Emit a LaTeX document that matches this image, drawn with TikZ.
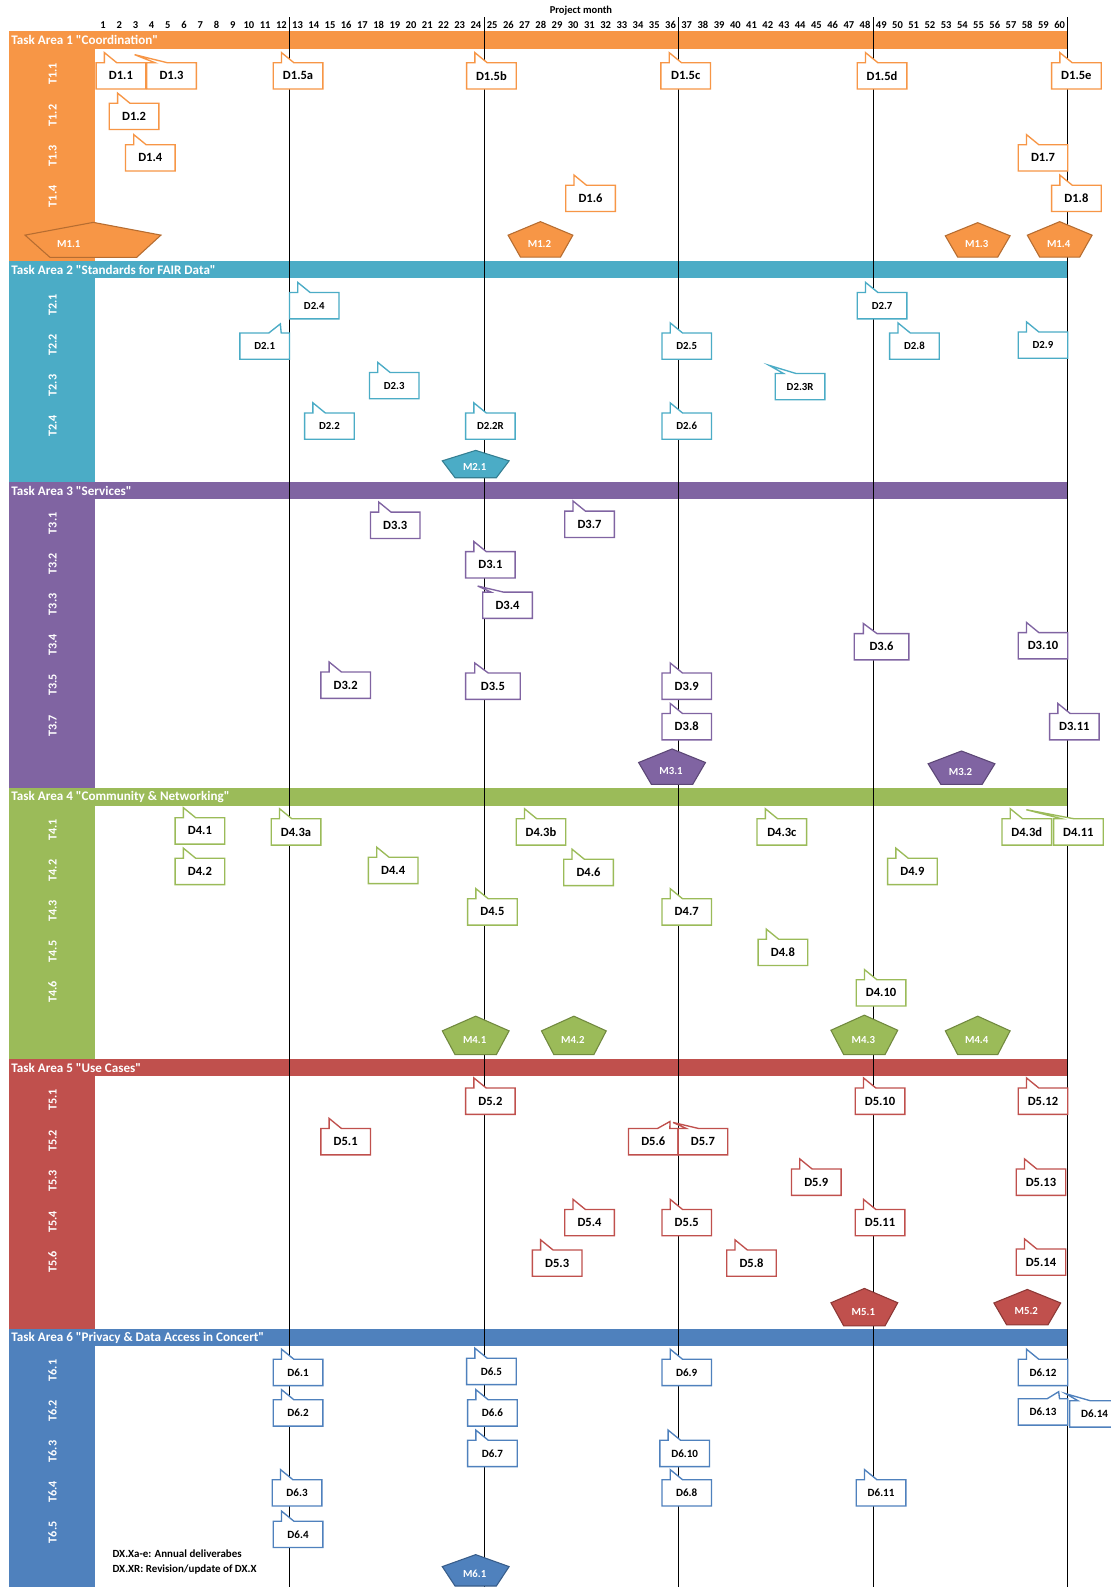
\documentclass[tikz,border=0pt]{standalone}
\usepackage{fontspec}
\setmainfont{Carlito}
\newfontfamily\carlplain{Carlito}
\definecolor{ta1}{HTML}{F79646}\definecolor{ta1d}{HTML}{B66D31}
\definecolor{ta2}{HTML}{4BACC6}\definecolor{ta2d}{HTML}{357F92}
\definecolor{ta3}{HTML}{8064A2}\definecolor{ta3d}{HTML}{5C4776}
\definecolor{ta4}{HTML}{9BBB59}\definecolor{ta4d}{HTML}{71893F}
\definecolor{ta5}{HTML}{C0504D}\definecolor{ta5d}{HTML}{8C3836}
\definecolor{ta6}{HTML}{4F81BD}\definecolor{ta6d}{HTML}{385D8A}
\colorlet{cc}{ta1}\colorlet{ccd}{ta1d}
\def\csz{9.3}
\tikzset{
 callout/.style={draw=cc, fill=white, line width=1pt, line join=miter},
 clabel/.style={font=\bfseries\fontsize{\csz}{\csz}\selectfont, inner sep=0pt, text=black},
 mile/.style={fill=cc, draw=ccd, line width=0.8pt},
 mlabel/.style={font=\bfseries\fontsize{8}{8}\selectfont, text=white, inner sep=0pt},
 tlabel/.style={font=\bfseries\fontsize{9}{9}\selectfont, text=white, rotate=90, inner sep=0pt},
 hlabel/.style={font=\carlplain\bfseries\fontsize{9.7}{9.7}\selectfont, text=white, anchor=west, inner sep=0pt},
 mnum/.style={font=\bfseries\fontsize{7.8}{8}\selectfont, inner sep=0pt},
 legend/.style={font=\bfseries\fontsize{8.1}{8.1}\selectfont, anchor=west, inner sep=0pt},
 vline/.style={black, line width=0.7pt},
}
% callout, wedge base at 2/12..5/12
\newcommand{\dct}[6][49]{%
  \draw[callout] (#3,#4-13) -- (#3+#1/6,#4-13) -- (#6) -- (#3+#1*5/12,#4-13) -- (#3+#1,#4-13) -- (#3+#1,#4+13) -- (#3,#4+13) -- cycle;
  \node[clabel] (#2) at (#3+#1/2,#4) {#5};}
\newcommand{\dc}[5][49]{\dct[#1]{#2}{#3}{#4}{#5}{#3+#1/6,#4-23}}
% callout, wedge base at 7/12..10/12
\newcommand{\dcr}[6][49]{%
  \draw[callout] (#3,#4-13) -- (#3+#1*7/12,#4-13) -- (#6) -- (#3+#1*10/12,#4-13) -- (#3+#1,#4-13) -- (#3+#1,#4+13) -- (#3,#4+13) -- cycle;
  \node[clabel] (#2) at (#3+#1/2,#4) {#5};}
% milestone pentagon: name, cx, y0, w, h, label
\newcommand{\mpent}[6]{%
  \draw[mile] (#2,#3) -- (#2+#4/2,#3+0.382*#5) -- (#2+0.309*#4,#3+#5) -- (#2-0.309*#4,#3+#5) -- (#2-#4/2,#3+0.382*#5) -- cycle;
  \node[mlabel] (#1) at (#2-1,#3+0.62*#5) {#6};}
% task area: color, top, next top, header text, name
\newcommand{\tasec}[5]{%
  \fill[#1] (9,#2) rectangle (1055,#2+17);
  \fill[#1] (9,#2) rectangle (94,#3);
  \node[hlabel] (#5) at (11,#2+8.8) {#4};}
\begin{document}
\begin{tikzpicture}[x=0.75pt,y=-0.75pt]
\useasboundingbox (0,0) rectangle (1097,1568);
\fill[white] (0,0) rectangle (1097,1568);

\tasec{ta1}{31}{258}{Task Area 1 "Coordination"}{h1}
\tasec{ta2}{258}{476}{Task Area 2 "Standards for FAIR Data"}{h2}
\tasec{ta3}{476}{779}{Task Area 3 "Services"}{h3}
\tasec{ta4}{779}{1046}{Task Area 4 "Community \& Networking"}{h4}
\tasec{ta5}{1046}{1313}{Task Area 5 "Use Cases"}{h5}
\tasec{ta6}{1313}{1568}{Task Area 6 "Privacy \& Data Access in Concert"}{h6}

% vertical year lines
\foreach \k/\xx in {1/286,2/478.2,3/670.5,4/862.7,5/1055}{
  \coordinate (v\k t) at (\xx,17);
  \coordinate (v\k b) at (\xx,1568);
  \draw[vline] (v\k t) -- (v\k b);
}

% month numbers
\node[mnum] (pm) at (574,11) {Project month};
\foreach \m in {1,...,60}{
  \node[mnum] (mn\m) at ({286+(\m-12.5)*16.02},25) {\m};
}

% task labels
\foreach \n/\yy in {T1.1/73,T1.2/114,T1.3/154,T1.4/194,
  T2.1/301,T2.2/341,T2.3/381,T2.4/421,
  T3.1/517,T3.2/557,T3.3/597,T3.4/637,T3.5/677,T3.7/717,
  T4.1/820,T4.2/860,T4.3/900,T4.5/940,T4.6/980,
  T5.1/1087,T5.2/1127,T5.3/1167,T5.4/1207,T5.6/1247,
  T6.1/1354,T6.2/1394,T6.3/1434,T6.4/1474,T6.5/1514}{
  \node[tlabel] (lab\n) at (52,\yy) {\n};
}

% ---------- TA1
\colorlet{cc}{ta1}\colorlet{ccd}{ta1d}\def\csz{9.3}
\dc{d11}{95}{75}{D1.1}
\dct{d13}{145}{75}{D1.3}{133,54}
\dc{d15a}{270}{75}{D1.5a}
\dc{d15b}{461}{75}{D1.5b}
\dc{d15c}{653}{75}{D1.5c}
\dc{d15d}{847}{75}{D1.5d}
\dc{d15e}{1039}{75}{D1.5e}
\dc{d12}{108}{115}{D1.2}
\dc{d14}{124}{156}{D1.4}
\dc{d17}{1006}{156}{D1.7}
\dc{d16}{559}{196}{D1.6}
\dc{d18}{1039}{196}{D1.8}
\draw[mile] (24.7,232.3) -- (92.2,219.7) -- (159,232.3) -- (135,254.3) -- (49.4,254.3) -- cycle;
\node[mlabel] (m11) at (68,241) {M1.1};
\mpent{m12}{534}{219}{64}{35}{M1.2}
\mpent{m13}{966}{220}{64}{34}{M1.3}
\mpent{m14}{1047}{219}{64}{35}{M1.4}

% ---------- TA2
\colorlet{cc}{ta2}\colorlet{ccd}{ta2d}\def\csz{8}
\dc{d24}{286}{302}{D2.4}
\dc{d27}{847}{302}{D2.7}
\dcr{d21}{237}{342}{D2.1}{277,320}
\dc{d25}{654}{342}{D2.5}
\dc{d28}{879}{342}{D2.8}
\dc{d29}{1006}{341}{D2.9}
\dc{d23}{365}{381}{D2.3}
\dct{d23r}{766}{382}{D2.3R}{760,361}
\dc{d22}{301}{421}{D2.2}
\dc{d22r}{460}{421}{D2.2R}
\dc{d26}{654}{421}{D2.6}
\mpent{m21}{470}{445}{66}{27}{M2.1}

% ---------- TA3
\colorlet{cc}{ta3}\colorlet{ccd}{ta3d}\def\csz{9.3}
\dc{d33}{366}{519}{D3.3}
\dc{d37}{558}{518}{D3.7}
\dc{d31}{460}{558}{D3.1}
\dct{d34}{477}{598}{D3.4}{472,579}
\dc[54]{d36}{844}{639}{D3.6}
\dc{d310}{1006}{638}{D3.10}
\dc{d32}{317}{677}{D3.2}
\dc[54]{d35}{460}{678}{D3.5}
\dc{d39}{654}{678}{D3.9}
\dc{d38}{654}{718}{D3.8}
\dc{d311}{1037}{718}{D3.11}
\mpent{m31}{664}{740}{66}{35}{M3.1}
\mpent{m32}{950}{742}{66}{33}{M3.2}

% ---------- TA4
\colorlet{cc}{ta4}\colorlet{ccd}{ta4d}\def\csz{9.3}
\dc{d41}{173}{821}{D4.1}
\dc{d43a}{268}{822}{D4.3a}
\dc{d43b}{510}{822}{D4.3b}
\dc{d43c}{748}{822}{D4.3c}
\dc{d43d}{990}{822}{D4.3d}
\dct{d411}{1041}{822}{D4.11}{1014,800}
\dc{d42}{173}{861}{D4.2}
\dc{d44}{364}{860}{D4.4}
\dc{d46}{557}{862}{D4.6}
\dc{d49}{877}{861}{D4.9}
\dc{d45}{462}{901}{D4.5}
\dc{d47}{654}{901}{D4.7}
\dc{d48}{749}{941}{D4.8}
\dc{d410}{846}{981}{D4.10}
\mpent{m41}{470}{1004}{66}{38}{M4.1}
\mpent{m42}{567}{1004}{64}{38}{M4.2}
\mpent{m43}{854}{1003}{66}{39}{M4.3}
\mpent{m44}{966}{1004}{64}{38}{M4.4}

% ---------- TA5
\colorlet{cc}{ta5}\colorlet{ccd}{ta5d}\def\csz{9.3}
\dc{d52}{460}{1088}{D5.2}
\dc{d510}{845}{1088}{D5.10}
\dc{d512}{1006}{1088}{D5.12}
\dc{d51}{317}{1128}{D5.1}
\dcr{d56}{621}{1128}{D5.6}{662,1108}
\dct{d57}{670}{1128}{D5.7}{665,1109}
\dc{d59}{782}{1168}{D5.9}
\dc{d513}{1004}{1168}{D5.13}
\dc{d54}{558}{1208}{D5.4}
\dc{d55}{654}{1208}{D5.5}
\dc{d511}{845}{1208}{D5.11}
\dc{d53}{526}{1248}{D5.3}
\dc{d58}{718}{1248}{D5.8}
\dc{d514}{1004}{1247}{D5.14}
\mpent{m51}{854}{1273}{66}{37}{M5.1}
\mpent{m52}{1015}{1274}{66}{35}{M5.2}

% ---------- TA6
\colorlet{cc}{ta6}\colorlet{ccd}{ta6d}\def\csz{8.2}
\dc{d61}{270}{1356}{D6.1}
\dc{d65}{461}{1355}{D6.5}
\dc{d69}{654}{1356}{D6.9}
\dc{d612}{1006}{1356}{D6.12}
\dc{d62}{270}{1396}{D6.2}
\dc{d66}{462}{1396}{D6.6}
\dcr{d613}{1006}{1395}{D6.13}{1046,1375}
\dct{d614}{1057}{1397}{D6.14}{1053,1377}
\dc{d67}{462}{1436}{D6.7}
\dc{d610}{652}{1436}{D6.10}
\dc{d63}{269}{1475}{D6.3}
\dc{d68}{654}{1475}{D6.8}
\dc{d611}{846}{1475}{D6.11}
\dc{d64}{270}{1516}{D6.4}
\mpent{m61}{470}{1536}{66}{31}{M6.1}

% legend
\node[legend] (leg1) at (111,1535) {DX.Xa-e: Annual deliverabes};
\node[legend] (leg2) at (111,1551) {DX.XR: Revision/update of DX.X};
\end{tikzpicture}
\end{document}
